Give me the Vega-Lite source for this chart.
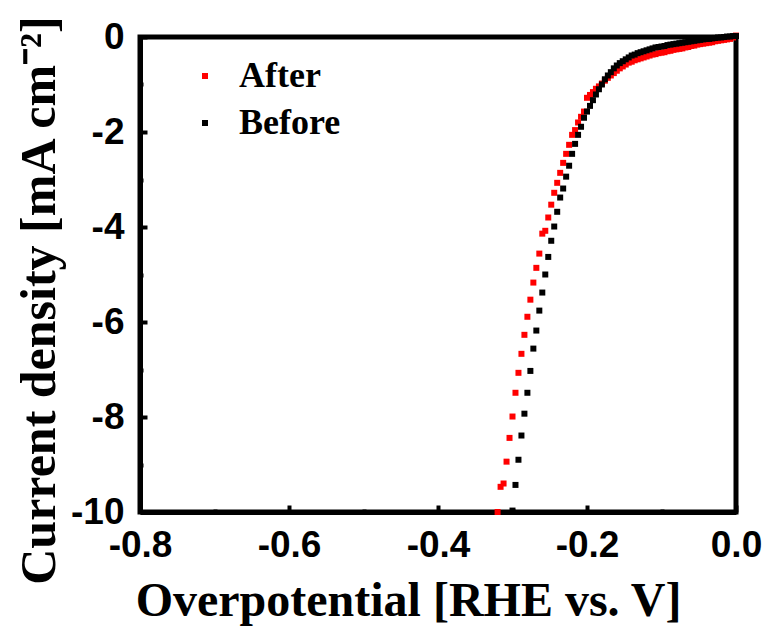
{
  "$schema": "https://vega.github.io/schema/vega-lite/v6.json",
  "width": 596,
  "height": 475,
  "autosize": {"type": "none"},
  "padding": {"left": 140, "top": 37, "right": 35, "bottom": 116},
  "background": "white",
  "config": {"view": {"stroke": "black", "strokeWidth": 5}},
  "data": {"values": [
    {"s":"After","v":-0.320,"j":-10.0},{"s":"After","v":-0.316,"j":-9.47},{"s":"After","v":-0.312,"j":-9.40},{"s":"After","v":-0.308,"j":-8.94},{"s":"After","v":-0.304,"j":-8.44},{"s":"After","v":-0.300,"j":-7.99},{"s":"After","v":-0.296,"j":-7.49},{"s":"After","v":-0.292,"j":-7.07},{"s":"After","v":-0.288,"j":-6.67},{"s":"After","v":-0.284,"j":-6.27},{"s":"After","v":-0.280,"j":-5.89},{"s":"After","v":-0.276,"j":-5.53},{"s":"After","v":-0.272,"j":-5.17},{"s":"After","v":-0.268,"j":-4.86},{"s":"After","v":-0.264,"j":-4.56},{"s":"After","v":-0.260,"j":-4.14},{"s":"After","v":-0.256,"j":-4.08},{"s":"After","v":-0.252,"j":-3.80},{"s":"After","v":-0.248,"j":-3.53},{"s":"After","v":-0.244,"j":-3.28},{"s":"After","v":-0.240,"j":-3.07},{"s":"After","v":-0.236,"j":-2.86},{"s":"After","v":-0.232,"j":-2.65},{"s":"After","v":-0.228,"j":-2.46},{"s":"After","v":-0.224,"j":-2.27},{"s":"After","v":-0.220,"j":-2.06},{"s":"After","v":-0.216,"j":-1.96},{"s":"After","v":-0.212,"j":-1.80},{"s":"After","v":-0.208,"j":-1.68},{"s":"After","v":-0.204,"j":-1.57},{"s":"After","v":-0.200,"j":-1.28},{"s":"After","v":-0.196,"j":-1.22},{"s":"After","v":-0.192,"j":-1.16},{"s":"After","v":-0.188,"j":-1.09},{"s":"After","v":-0.184,"j":-1.04},{"s":"After","v":-0.180,"j":-0.98},{"s":"After","v":-0.176,"j":-0.92},{"s":"After","v":-0.172,"j":-0.86},{"s":"After","v":-0.168,"j":-0.81},{"s":"After","v":-0.164,"j":-0.76},{"s":"After","v":-0.160,"j":-0.71},{"s":"After","v":-0.156,"j":-0.66},{"s":"After","v":-0.152,"j":-0.62},{"s":"After","v":-0.148,"j":-0.58},{"s":"After","v":-0.144,"j":-0.54},{"s":"After","v":-0.140,"j":-0.52},{"s":"After","v":-0.136,"j":-0.49},{"s":"After","v":-0.132,"j":-0.47},{"s":"After","v":-0.128,"j":-0.45},{"s":"After","v":-0.124,"j":-0.43},{"s":"After","v":-0.120,"j":-0.41},{"s":"After","v":-0.116,"j":-0.39},{"s":"After","v":-0.112,"j":-0.37},{"s":"After","v":-0.108,"j":-0.36},{"s":"After","v":-0.104,"j":-0.34},{"s":"After","v":-0.100,"j":-0.33},{"s":"After","v":-0.096,"j":-0.32},{"s":"After","v":-0.092,"j":-0.30},{"s":"After","v":-0.088,"j":-0.29},{"s":"After","v":-0.084,"j":-0.27},{"s":"After","v":-0.080,"j":-0.26},{"s":"After","v":-0.076,"j":-0.25},{"s":"After","v":-0.072,"j":-0.24},{"s":"After","v":-0.068,"j":-0.22},{"s":"After","v":-0.064,"j":-0.21},{"s":"After","v":-0.060,"j":-0.19},{"s":"After","v":-0.056,"j":-0.18},{"s":"After","v":-0.052,"j":-0.16},{"s":"After","v":-0.048,"j":-0.15},{"s":"After","v":-0.044,"j":-0.14},{"s":"After","v":-0.040,"j":-0.13},{"s":"After","v":-0.036,"j":-0.12},{"s":"After","v":-0.032,"j":-0.11},{"s":"After","v":-0.028,"j":-0.09},{"s":"After","v":-0.024,"j":-0.08},{"s":"After","v":-0.020,"j":-0.07},{"s":"After","v":-0.016,"j":-0.06},{"s":"After","v":-0.012,"j":-0.05},{"s":"After","v":-0.008,"j":-0.04},{"s":"After","v":-0.004,"j":-0.01},{"s":"After","v":0.000,"j":0.03},
    {"s":"Before","v":-0.300,"j":-9.97},{"s":"Before","v":-0.296,"j":-9.43},{"s":"Before","v":-0.292,"j":-8.90},{"s":"Before","v":-0.288,"j":-8.39},{"s":"Before","v":-0.284,"j":-7.93},{"s":"Before","v":-0.280,"j":-7.49},{"s":"Before","v":-0.276,"j":-7.03},{"s":"Before","v":-0.272,"j":-6.56},{"s":"Before","v":-0.268,"j":-6.18},{"s":"Before","v":-0.264,"j":-5.76},{"s":"Before","v":-0.260,"j":-5.38},{"s":"Before","v":-0.256,"j":-5.00},{"s":"Before","v":-0.252,"j":-4.63},{"s":"Before","v":-0.248,"j":-4.29},{"s":"Before","v":-0.244,"j":-3.99},{"s":"Before","v":-0.240,"j":-3.68},{"s":"Before","v":-0.236,"j":-3.38},{"s":"Before","v":-0.232,"j":-3.19},{"s":"Before","v":-0.228,"j":-2.94},{"s":"Before","v":-0.224,"j":-2.71},{"s":"Before","v":-0.220,"j":-2.46},{"s":"Before","v":-0.216,"j":-2.25},{"s":"Before","v":-0.212,"j":-2.06},{"s":"Before","v":-0.208,"j":-1.89},{"s":"Before","v":-0.204,"j":-1.70},{"s":"Before","v":-0.200,"j":-1.57},{"s":"Before","v":-0.196,"j":-1.45},{"s":"Before","v":-0.192,"j":-1.33},{"s":"Before","v":-0.188,"j":-1.21},{"s":"Before","v":-0.184,"j":-1.10},{"s":"Before","v":-0.180,"j":-1.00},{"s":"Before","v":-0.176,"j":-0.89},{"s":"Before","v":-0.172,"j":-0.81},{"s":"Before","v":-0.168,"j":-0.74},{"s":"Before","v":-0.164,"j":-0.66},{"s":"Before","v":-0.160,"j":-0.60},{"s":"Before","v":-0.156,"j":-0.55},{"s":"Before","v":-0.152,"j":-0.51},{"s":"Before","v":-0.148,"j":-0.47},{"s":"Before","v":-0.144,"j":-0.43},{"s":"Before","v":-0.140,"j":-0.39},{"s":"Before","v":-0.136,"j":-0.37},{"s":"Before","v":-0.132,"j":-0.34},{"s":"Before","v":-0.128,"j":-0.32},{"s":"Before","v":-0.124,"j":-0.30},{"s":"Before","v":-0.120,"j":-0.28},{"s":"Before","v":-0.116,"j":-0.26},{"s":"Before","v":-0.112,"j":-0.24},{"s":"Before","v":-0.108,"j":-0.22},{"s":"Before","v":-0.104,"j":-0.21},{"s":"Before","v":-0.100,"j":-0.20},{"s":"Before","v":-0.096,"j":-0.19},{"s":"Before","v":-0.092,"j":-0.17},{"s":"Before","v":-0.088,"j":-0.16},{"s":"Before","v":-0.084,"j":-0.15},{"s":"Before","v":-0.080,"j":-0.14},{"s":"Before","v":-0.076,"j":-0.13},{"s":"Before","v":-0.072,"j":-0.12},{"s":"Before","v":-0.068,"j":-0.11},{"s":"Before","v":-0.064,"j":-0.10},{"s":"Before","v":-0.060,"j":-0.09},{"s":"Before","v":-0.056,"j":-0.08},{"s":"Before","v":-0.052,"j":-0.07},{"s":"Before","v":-0.048,"j":-0.06},{"s":"Before","v":-0.044,"j":-0.05},{"s":"Before","v":-0.040,"j":-0.04},{"s":"Before","v":-0.036,"j":-0.04},{"s":"Before","v":-0.032,"j":-0.03},{"s":"Before","v":-0.028,"j":-0.02},{"s":"Before","v":-0.024,"j":-0.01},{"s":"Before","v":-0.020,"j":-0.01},{"s":"Before","v":-0.016,"j":0.00},{"s":"Before","v":-0.012,"j":0.01},{"s":"Before","v":-0.008,"j":0.01},{"s":"Before","v":-0.004,"j":0.02},{"s":"Before","v":0.000,"j":0.02}
  ]},
  "mark": {"type": "point", "shape": "square", "filled": true, "size": 36, "opacity": 1},
  "encoding": {
    "x": {
      "field": "v", "type": "quantitative",
      "scale": {"domain": [-0.8, 0], "nice": false, "zero": false},
      "axis": {
        "title": "Overpotential [RHE vs. V]",
        "values": [-0.8, -0.7, -0.6, -0.5, -0.4, -0.3, -0.2, -0.1, 0],
        "labelExpr": "abs(round(datum.value*10)) % 2 == 0 ? replace(format(datum.value, '.1f'), '−', '-') : ''",
        "grid": false,
        "domainColor": "black", "domainWidth": 5,
        "tickColor": "black", "tickWidth": 4,
        "tickSize": {"condition": {"test": "abs(round(datum.value*10)) % 2 == 0", "value": -7}, "value": -3},
        "labelPadding": 22,
        "labelFont": "Liberation Sans", "labelFontWeight": "bold", "labelFontSize": 37, "labelColor": "black",
        "labelFlush": false, "labelOverlap": false,
        "titleFont": "Liberation Serif", "titleFontWeight": "bold", "titleFontSize": 48, "titleColor": "black",
        "titlePadding": 10, "titleX": 268
      }
    },
    "y": {
      "field": "j", "type": "quantitative",
      "scale": {"domain": [-10, 0], "nice": false, "zero": false},
      "axis": {
        "title": "Current density [mA cm⁻²]",
        "values": [-10, -9, -8, -7, -6, -5, -4, -3, -2, -1, 0],
        "labelExpr": "abs(round(datum.value)) % 2 == 0 ? replace(format(datum.value, 'd'), '−', '-') : ''",
        "grid": false,
        "domainColor": "black", "domainWidth": 5,
        "tickColor": "black", "tickWidth": 4,
        "tickSize": {"condition": {"test": "abs(round(datum.value)) % 2 == 0", "value": -7}, "value": -3},
        "labelPadding": 23,
        "labelFont": "Liberation Sans", "labelFontWeight": "bold", "labelFontSize": 37, "labelColor": "black",
        "labelFlush": false, "labelOverlap": false,
        "titleFont": "Liberation Serif", "titleFontWeight": "bold", "titleFontSize": 50, "titleColor": "black",
        "titlePadding": 6, "titleY": 263
      }
    },
    "color": {
      "field": "s", "type": "nominal",
      "scale": {"domain": ["After", "Before"], "range": ["#ff0000", "#000000"]},
      "legend": {
        "orient": "none", "legendX": 47, "legendY": 21,
        "title": null, "padding": 0,
        "symbolType": "square", "symbolSize": 36, "symbolStrokeWidth": 0,
        "labelFont": "Liberation Serif", "labelFontWeight": "bold", "labelFontSize": 36, "labelColor": "black",
        "labelOffset": 16, "rowPadding": 11
      }
    }
  }
}
